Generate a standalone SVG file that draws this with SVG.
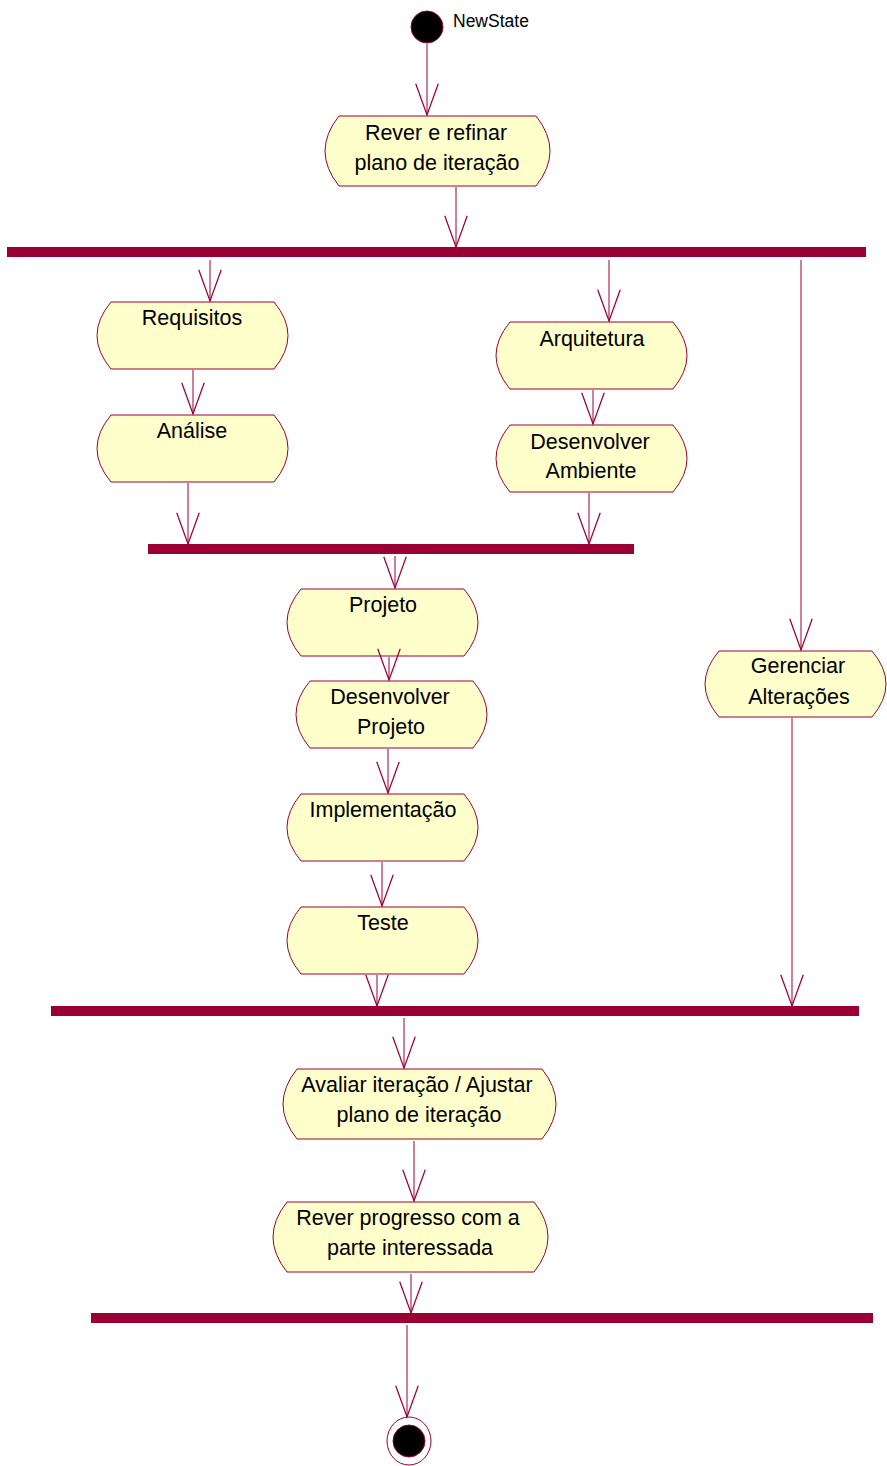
<svg xmlns="http://www.w3.org/2000/svg" width="887" height="1466" viewBox="0 0 887 1466">
<style>
.n{fill:#FFFFCC;stroke:#990033;stroke-width:1}
.t{font-family:"Liberation Sans",Arial,sans-serif;font-size:21.5px;fill:#000;text-anchor:middle}
.bar{fill:#990033}
.c line{stroke:#990033;stroke-width:1;marker-end:url(#a)}
</style>
<defs>
<marker id="a" markerUnits="userSpaceOnUse" markerWidth="40" markerHeight="30" refX="0" refY="0" viewBox="-27 -12 30 24" orient="auto" overflow="visible">
<path d="M-25,-9 L0,0 L-25,9" fill="none" stroke="#990033" stroke-width="1"/>
</marker>
</defs>
<rect width="887" height="1466" fill="#fff"/>
<g id="start">
<circle cx="427" cy="27" r="16" fill="#000" stroke="#990033"/>
<text x="453" y="27" style="font-family:'Liberation Sans',Arial,sans-serif;font-size:17.5px">NewState</text>
</g>
<g id="n1"><path class="n" d="M339,116 H536 Q564,151 536,186 H339 Q311,151 339,116 Z"/>
<text class="t" x="436" y="140">Rever e refinar</text><text class="t" x="437" y="170">plano de iteração</text></g>
<g id="fork1"><rect class="bar" x="7" y="247" width="859" height="10"/></g>
<g id="requisitos"><path class="n" d="M111,302 H274 Q302,335.5 274,369 H111 Q83,335.5 111,302 Z"/>
<text class="t" x="192" y="325">Requisitos</text></g>
<g id="analise"><path class="n" d="M111,415 H274 Q302,448.5 274,482 H111 Q83,448.5 111,415 Z"/>
<text class="t" x="192" y="438">Análise</text></g>
<g id="arquitetura"><path class="n" d="M510,322 H673 Q701,355.5 673,389 H510 Q482,355.5 510,322 Z"/>
<text class="t" x="592" y="346">Arquitetura</text></g>
<g id="ambiente"><path class="n" d="M510,425 H673 Q701,458.5 673,492 H510 Q482,458.5 510,425 Z"/>
<text class="t" x="590" y="449">Desenvolver</text><text class="t" x="591" y="478">Ambiente</text></g>
<g id="join1"><rect class="bar" x="148" y="544" width="486" height="10"/></g>
<g id="projeto"><path class="n" d="M301,589 H464 Q492,622.5 464,656 H301 Q273,622.5 301,589 Z"/>
<text class="t" x="383" y="612">Projeto</text></g>
<g id="devprojeto"><path class="n" d="M310,681 H473 Q501,714.5 473,748 H310 Q282,714.5 310,681 Z"/>
<text class="t" x="390" y="704">Desenvolver</text><text class="t" x="391" y="734">Projeto</text></g>
<g id="implementacao"><path class="n" d="M301,794 H464 Q492,827.5 464,861 H301 Q273,827.5 301,794 Z"/>
<text class="t" x="383" y="817">Implementação</text></g>
<g id="teste"><path class="n" d="M301,907 H464 Q492,940.5 464,974 H301 Q273,940.5 301,907 Z"/>
<text class="t" x="383" y="930">Teste</text></g>
<g id="gerenciar"><path class="n" d="M719,651 H872 Q900,684 872,717 H719 Q691,684 719,651 Z"/>
<text class="t" x="798" y="673">Gerenciar</text><text class="t" x="799" y="704">Alterações</text></g>
<g id="join2"><rect class="bar" x="51" y="1006" width="808" height="10"/></g>
<g id="avaliar"><path class="n" d="M297,1069 H542 Q570,1104 542,1139 H297 Q269,1104 297,1069 Z"/>
<text class="t" x="417" y="1092">Avaliar iteração / Ajustar</text><text class="t" x="419" y="1122">plano de iteração</text></g>
<g id="progresso"><path class="n" d="M287,1202 H534 Q562,1237 534,1272 H287 Q259,1237 287,1202 Z"/>
<text class="t" x="408" y="1225">Rever progresso com a</text><text class="t" x="410" y="1255">parte interessada</text></g>
<g id="join3"><rect class="bar" x="91" y="1313" width="782" height="10"/></g>
<g id="end">
<ellipse cx="409" cy="1441" rx="22" ry="24" fill="#fff" stroke="#990033"/>
<circle cx="409" cy="1441" r="16" fill="#000" stroke="#990033"/>
</g>
<g class="c" id="connectors">
<line x1="427" y1="44" x2="427" y2="115"/>
<line x1="456" y1="187" x2="456" y2="247"/>
<line x1="210" y1="260" x2="210" y2="301"/>
<line x1="609" y1="260" x2="609" y2="321"/>
<line x1="801" y1="260" x2="801" y2="650"/>
<line x1="193" y1="370" x2="193" y2="414"/>
<line x1="593" y1="390" x2="593" y2="424"/>
<line x1="188" y1="483" x2="188" y2="544"/>
<line x1="589" y1="493" x2="589" y2="544"/>
<line x1="395" y1="556" x2="395" y2="588"/>
<line x1="389" y1="657" x2="389" y2="680"/>
<line x1="388" y1="749" x2="388" y2="793"/>
<line x1="382" y1="862" x2="382" y2="906"/>
<line x1="377" y1="975" x2="377" y2="1006"/>
<line x1="792" y1="718" x2="792" y2="1006"/>
<line x1="404" y1="1018" x2="404" y2="1068"/>
<line x1="414" y1="1141" x2="414" y2="1201"/>
<line x1="411" y1="1274" x2="411" y2="1313"/>
<line x1="407" y1="1325" x2="407" y2="1417"/>
</g>
</svg>
